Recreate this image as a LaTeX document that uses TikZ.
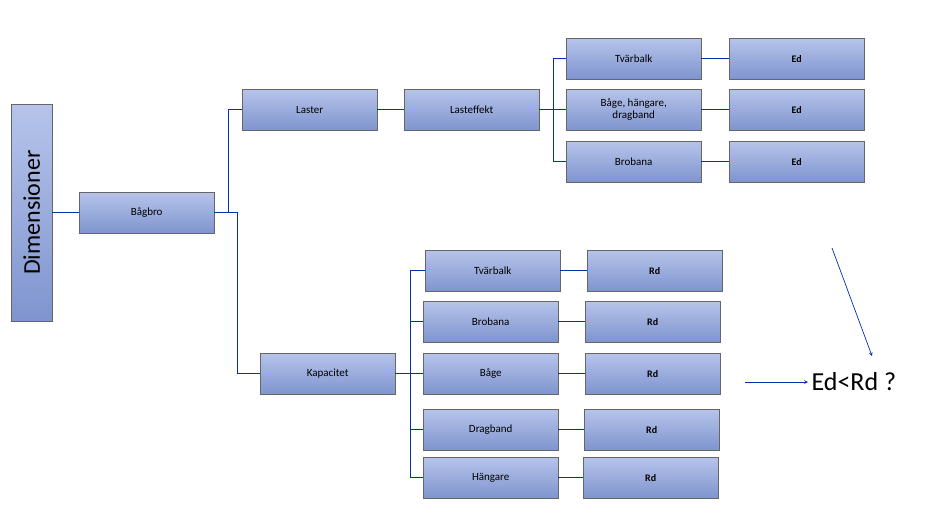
\documentclass[tikz,border=0pt]{standalone}
\usepackage{fontspec}
\setmainfont{Carlito}
\begin{document}
\begin{tikzpicture}[x=1pt,y=-1pt,
  bx/.style={draw=gray!80!black,top color=blue!25!cyan!10!white!80!blue,bottom color=blue!45!white!85!black,
    minimum width=135pt,minimum height=41pt,inner sep=0pt,anchor=north west,font=\fontsize{11}{12}\selectfont,align=center},
  ln/.style={draw=blue!55!black!80!cyan, line width=0.7pt},
  ar/.style={ln,->,>=stealth}]
\definecolor{tc}{HTML}{B6C4EA}\definecolor{bc}{HTML}{7F94CF}
\tikzset{bx/.append style={top color=tc,bottom color=bc}}
\useasboundingbox (0,0) rectangle (939,528);
\node[bx,minimum width=41pt,minimum height=217pt] (dim) at (11,104) {};
\node[rotate=90,font=\fontsize{24}{26}\selectfont] at (dim.center) {Dimensioner};
\node[bx] (bro) at (79,192) {Bågbro};
\node[bx] (las) at (242,89) {Laster};
\node[bx] (eff) at (404,89) {Lasteffekt};
\node[bx] (e1) at (566,38) {Tvärbalk};
\node[bx] (e2) at (566,89) {Båge, hängare,\\dragband};
\node[bx] (e3) at (566,141) {Brobana};
\node[bx,font=\bfseries] (d1) at (729,38) {Ed};
\node[bx,font=\bfseries] (d2) at (729,89) {Ed};
\node[bx,font=\bfseries] (d3) at (729,141) {Ed};
\node[bx] (kap) at (260,353) {Kapacitet};
\node[bx] (k1) at (425,250) {Tvärbalk};
\node[bx] (k2) at (423,301) {Brobana};
\node[bx] (k3) at (423,353) {Båge};
\node[bx] (k4) at (423,409) {Dragband};
\node[bx] (k5) at (423,457) {Hängare};
\node[bx,font=\bfseries] (r1) at (587,250) {Rd};
\node[bx,font=\bfseries] (r2) at (585,301) {Rd};
\node[bx,font=\bfseries] (r3) at (585,353) {Rd};
\node[bx,font=\bfseries] (r4) at (584,409) {Rd};
\node[bx,font=\bfseries] (r5) at (583,457) {Rd};
\draw[ln] (dim.east) -- (bro.west);
\draw[ln] (bro.east) -- ++(14,0) |- (las.west);
\draw[ln] (bro.east) -- ++(23,0) |- (kap.west);
\draw[ln] (las) -- (eff);
\foreach \i in {1,2,3}{\draw[ln] (eff.east) -- ++(14,0) |- (e\i.west); \draw[ln] (e\i) -- (d\i);}
\foreach \i in {1,...,5}{\draw[ln] (kap.east) -- ++(15,0) |- (k\i.west); \draw[ln] (k\i) -- (r\i);}
\node[font=\fontsize{26}{28}\selectfont,anchor=west] (q) at (808,382) {Ed<Rd ?};
\coordinate (a1) at (832,248); \coordinate (a2) at (745,382);
\draw[ar] (a1) -- (872,356);
\draw[ar] (a2) -- (q.west);
\end{tikzpicture}
\end{document}
